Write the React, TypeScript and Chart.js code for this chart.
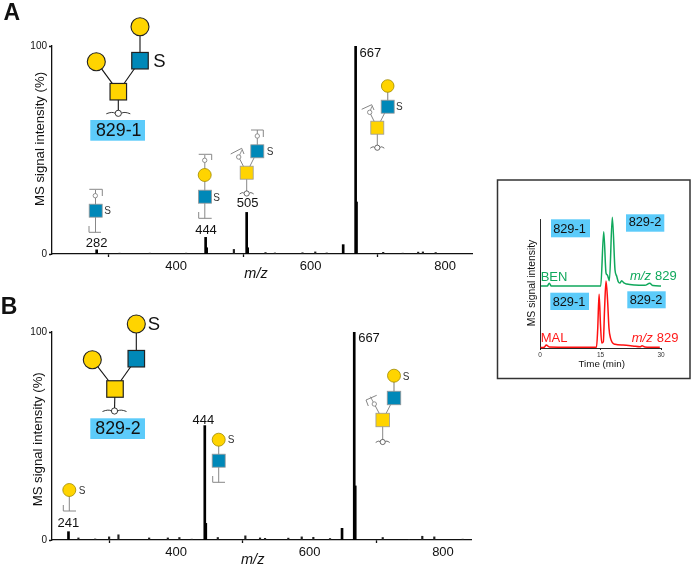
import React, { useEffect, useRef } from "react";
import { Chart, registerables } from "chart.js";

Chart.register(...registerables);

const FONT = '"Liberation Sans", Arial, sans-serif';
const W = 691;
const H = 566;
const YELLOW = "#FFD400";
const BLUE = "#0088B8";
const LABEL_BG = "#5CCBFA";

// Spectrum A
const aMajorMz = [282, 444, 505, 648.5, 667];
const aMajorInt = [2, 8, 20, 4.5, 100];
const aShoulderMz = [445.5, 506.5, 668.3];
const aShoulderInt = [3, 3, 25];
const aMinorMz = [316, 361, 415, 486, 533, 547, 588, 607, 624, 708, 737, 760, 767, 786];
const aMinorInt = [0.4, 0.4, 0.4, 2.2, 0.7, 0.5, 0.6, 1, 0.5, 0.8, 0.4, 0.9, 1, 0.7];

// Spectrum B
const bMajorMz = [238.7, 443, 648.7, 667];
const bMajorInt = [4, 55, 5.6, 100];
const bShoulderMz = [444.5, 668.5];
const bShoulderInt = [8, 26];
const bMinorMz = [253.6, 278.7, 299.6, 313.6, 359.6, 387.6, 404.9, 423.5, 462.5, 503.8, 525.8, 533.3, 568.2, 588.3, 605.7, 630.7, 709.7, 749, 769, 787, 829.5];
const bMinorInt = [1, 0.5, 1.5, 2.5, 1, 1, 1.2, 0.4, 1.2, 2, 1, 0.8, 0.9, 1.5, 1.3, 0.7, 1.2, 0.3, 1.8, 1.5, 0.4];

const spectrumXTicks = [400, 600, 800];
const spectrumYTicks = [0, 100];

// Inset chromatograms
const benTime = [0.25, 1.8, 2.3, 2.8, 15.05, 15.8, 16.37, 16.7, 17.2, 17.93, 18.6, 19, 19.4, 19.8, 20.25, 20.8, 21.5, 23.5, 26, 27.2, 28, 30];
const benSignal = [48, 48, 50.2, 48, 48, 90.2, 58.1, 56.6, 52.2, 101.3, 60.5, 55.8, 51.4, 50.4, 52.2, 50.4, 49.6, 48.8, 48.6, 50.2, 48.4, 48];
const malTime = [0.15, 1.05, 1.55, 2.3, 14, 14.3, 14.65, 15, 15.3, 15.7, 16, 16.37, 16.75, 17.1, 17.5, 18.6, 20.6, 23, 24.8, 25.3, 26, 29.7];
const malSignal = [0.4, 0.6, 2.3, 0.8, 0.5, 14, 41.6, 17.8, 3.9, 4.9, 29.5, 51.9, 37.2, 15.5, 7.5, 2.9, 2.3, 1.6, 0.9, 1.7, 0.8, 0.5];
const insetXTicks = [0, 15, 30];

type Ctx = CanvasRenderingContext2D;

function text(c: Ctx, s: string, x: number, y: number, font: string, color = "#111", align: CanvasTextAlign = "center") {
  c.font = `${font} ${FONT}`;
  c.fillStyle = color;
  c.textAlign = align;
  c.textBaseline = "middle";
  c.fillText(s, x, y);
}
function vtext(c: Ctx, s: string, x: number, y: number, font: string) {
  c.save();
  c.translate(x, y);
  c.rotate(-Math.PI / 2);
  text(c, s, 0, 0, font);
  c.restore();
}
function line(c: Ctx, pts: number[][], color = "#888", w = 1) {
  c.strokeStyle = color;
  c.lineWidth = w;
  c.beginPath();
  pts.forEach((p, i) => (i ? c.lineTo(p[0], p[1]) : c.moveTo(p[0], p[1])));
  c.stroke();
}
function square(c: Ctx, x: number, y: number, s: number, fill: string, stroke = "#999", w = 0.8) {
  c.fillStyle = fill;
  c.strokeStyle = stroke;
  c.lineWidth = w;
  c.fillRect(x - s / 2, y - s / 2, s, s);
  c.strokeRect(x - s / 2, y - s / 2, s, s);
}
function circle(c: Ctx, x: number, y: number, r: number, fill: string, stroke = "#a08a00", w = 0.8) {
  c.beginPath();
  c.arc(x, y, r, 0, Math.PI * 2);
  c.fillStyle = fill;
  c.fill();
  c.strokeStyle = stroke;
  c.lineWidth = w;
  c.stroke();
}
function anchor(c: Ctx, x: number, y: number, r: number, hw: number, color: string, w: number) {
  c.strokeStyle = color;
  c.lineWidth = w;
  c.beginPath();
  c.moveTo(x - hw, y + 0.5);
  c.quadraticCurveTo(x - hw / 2, y - 2, x - r, y);
  c.moveTo(x + r, y);
  c.quadraticCurveTo(x + hw / 2, y - 2, x + hw, y + 0.5);
  c.stroke();
  circle(c, x, y, r, "#fff", color, w);
}
function hollow(c: Ctx, x: number, y: number) {
  circle(c, x, y, 2.2, "#fff", "#777", 0.8);
}
function label(c: Ctx, s: string, x0: number, y0: number, x1: number, y1: number, cx: number, cy: number, font: string) {
  c.fillStyle = LABEL_BG;
  c.fillRect(x0, y0, x1 - x0, y1 - y0);
  text(c, s, cx, cy, font);
}
function bigGlycan(c: Ctx, gx: number, gy: number, bx: number, by: number, tx: number, ty: number, lx: number, ly: number, ax: number, ay: number) {
  const k = "#111";
  line(c, [[gx, gy], [lx, ly]], k, 1.1);
  line(c, [[gx, gy], [bx, by]], k, 1.1);
  line(c, [[bx, by], [tx, ty]], k, 1.1);
  line(c, [[gx, gy], [ax, ay]], k, 1.1);
  square(c, gx, gy, 16.5, YELLOW, "#222", 1.2);
  square(c, bx, by, 16.5, BLUE, "#222", 1.2);
  circle(c, tx, ty, 9, YELLOW, "#222", 1.1);
  circle(c, lx, ly, 9, YELLOW, "#222", 1.1);
  anchor(c, ax, ay, 3.1, 12, "#222", 0.9);
}
function armBranch(c: Ctx, gx: number, gy: number, ox: number, oy: number, p0: number[], p1: number[], p2: number[]) {
  line(c, [[gx, gy], [ox, oy]], "#777", 0.9);
  line(c, [p0, p1, p2], "#777", 0.9);
  line(c, [[ox, oy], [(p1[0] + p2[0]) / 2 - 1, (p1[1] + p2[1]) / 2 - 1]], "#777", 0.8);
  hollow(c, ox, oy);
}

const panelADecor = (c: Ctx) => {
  text(c, "A", 11.7, 14, "bold 23px");
  vtext(c, "MS signal intensity (%)", 40, 139, "13.2px");
  text(c, "m/z", 256, 274, "italic 14.5px");
  text(c, "282", 96.7, 243.5, "13px");
  text(c, "444", 206, 230, "13px");
  text(c, "505", 247.7, 203.5, "13px");
  text(c, "667", 370.3, 53.5, "13px");

  bigGlycan(c, 118.3, 91.7, 140, 60.7, 140, 26.7, 96.3, 61.7, 118.3, 113.3);
  text(c, "S", 159.5, 62, "18.5px");
  label(c, "829-1", 90.3, 120, 145, 140.7, 118.7, 130.7, "17.8px");

  // 282
  line(c, [[89.3, 189.3], [102.3, 189.3], [102.3, 196]]);
  line(c, [[95.5, 190], [95.5, 232.3]]);
  line(c, [[89, 226], [89, 232.3], [101, 232.3]]);
  hollow(c, 95.3, 195.7);
  square(c, 95.7, 210.7, 13, BLUE);
  text(c, "S", 107.7, 211.5, "10px", "#333");

  // 444
  line(c, [[198.7, 154.3], [211.7, 154.3], [211.7, 160]]);
  line(c, [[204.8, 155], [204.8, 218.3]]);
  line(c, [[198.7, 212], [198.7, 218.3], [211.7, 218.3]]);
  hollow(c, 204.7, 160.3);
  circle(c, 204.7, 175, 6.5, YELLOW);
  square(c, 205, 196.7, 13, BLUE);
  text(c, "S", 216.7, 198, "10px", "#333");

  // 505
  line(c, [[251, 130], [263.3, 130], [263.3, 137]]);
  line(c, [[257.3, 130], [257.3, 151]]);
  line(c, [[257.3, 151.3], [246.7, 172.7]]);
  line(c, [[246.7, 172.7], [246.7, 193]]);
  armBranch(c, 246.7, 172.7, 238.7, 157, [230.7, 154], [241.7, 148.3], [244, 154]);
  hollow(c, 257.3, 136);
  square(c, 257.3, 151.3, 13, BLUE);
  square(c, 246.7, 172.7, 13, YELLOW);
  text(c, "S", 270, 152.5, "10px", "#333");
  anchor(c, 246.7, 193.5, 2.6, 7, "#444", 0.8);

  // 667
  line(c, [[387.7, 86], [387.7, 107]], "#999", 1.3);
  line(c, [[387.7, 107], [377.3, 127.7]]);
  line(c, [[377.3, 127.7], [377.3, 147]]);
  armBranch(c, 377.3, 127.7, 369.7, 112.3, [361.7, 109.3], [371.7, 104.7], [374, 110]);
  circle(c, 387.7, 86, 6.3, YELLOW);
  square(c, 387.7, 106.7, 13, BLUE);
  square(c, 377.3, 127.7, 13, YELLOW);
  text(c, "S", 399.3, 107.5, "10px", "#333");
  anchor(c, 377.3, 147.7, 2.6, 7, "#444", 0.8);
};

const panelBDecor = (c: Ctx) => {
  text(c, "B", 9, 308, "bold 23px");
  vtext(c, "MS signal intensity (%)", 38.3, 439.3, "13.2px");
  text(c, "m/z", 252.7, 560, "italic 14.5px");
  text(c, "241", 68.3, 523.5, "13px");
  text(c, "444", 203.3, 420, "13px");
  text(c, "667", 369, 338, "13px");

  bigGlycan(c, 115, 389, 136.3, 358.7, 136.3, 324, 92.3, 359.7, 114.5, 411);
  text(c, "S", 154, 324.5, "18.5px");
  label(c, "829-2", 90.3, 418.3, 145, 439, 118, 429, "17.8px");

  // 241
  line(c, [[69.3, 490], [69.3, 511]]);
  line(c, [[63.3, 505], [63.3, 511], [76, 511]]);
  circle(c, 69.3, 490, 6.5, YELLOW);
  text(c, "S", 82, 491, "10px", "#333");

  // 444
  line(c, [[218.7, 440], [218.7, 482.3]]);
  line(c, [[212.7, 476], [212.7, 482.3], [225, 482.3]]);
  circle(c, 218.7, 439.7, 6.5, YELLOW);
  square(c, 218.7, 460.7, 13, BLUE);
  text(c, "S", 231, 440.5, "10px", "#333");

  // 667
  line(c, [[394, 376], [394, 398]], "#999", 1.3);
  line(c, [[394, 398], [382.7, 420]]);
  line(c, [[382.7, 420], [382.7, 441]]);
  armBranch(c, 382.7, 420, 374.3, 404, [368.3, 406], [366, 400], [376.7, 395.3]);
  circle(c, 394, 375.7, 6.5, YELLOW);
  square(c, 394, 398, 13.5, BLUE);
  square(c, 382.7, 420, 13.5, YELLOW);
  text(c, "S", 406, 377, "10px", "#333");
  anchor(c, 382.7, 442, 2.6, 7, "#444", 0.8);
};

const insetFrame = (c: Ctx) => {
  c.strokeStyle = "#333";
  c.lineWidth = 1.5;
  c.strokeRect(497.5, 180, 192.5, 198.5);
};

const insetDecor = (c: Ctx) => {
  vtext(c, "MS signal intensity", 531.7, 283, "10.4px");
  text(c, "Time (min)", 601.7, 364, "9.8px");
  label(c, "829-1", 551, 219.3, 590, 237.3, 569.5, 229, "12.8px");
  label(c, "829-2", 626, 214.3, 664.3, 231.7, 645, 222.5, "12.8px");
  label(c, "829-1", 550.3, 292.7, 589, 310, 569, 302, "12.8px");
  label(c, "829-2", 627.3, 291.3, 665.7, 308.3, 646, 300, "12.8px");
  const G = "#10A85C";
  const R = "#FF1A1A";
  text(c, "BEN", 554, 277.5, "13px", G);
  text(c, "MAL", 554, 338, "13px", R);
  text(c, "m/z", 630, 276, "italic 13px", G, "left");
  text(c, "829", 655, 276, "13px", G, "left");
  text(c, "m/z", 631.7, 338.5, "italic 13px", R, "left");
  text(c, "829", 656.7, 338.5, "13px", R, "left");
};

const pair = (xs: number[], ys: number[]) => xs.map((x, i) => ({ x, y: ys[i] }));

function decorPlugin(id: string, after: (c: Ctx) => void, before?: (c: Ctx) => void) {
  return {
    id,
    beforeDraw(chart: any) {
      if (before) {
        chart.ctx.save();
        before(chart.ctx);
        chart.ctx.restore();
      }
    },
    afterDraw(chart: any) {
      chart.ctx.save();
      after(chart.ctx);
      chart.ctx.restore();
    },
  };
}

function axis(min: number, max: number, values: number[], tickFont: number, fix: (s: any) => void, border: number, tickLen: number, tickPad: number, color = "#111", showLabels = true) {
  return {
    type: "linear",
    offset: false,
    min,
    max,
    border: { display: true, color: "#111", width: border },
    grid: { display: true, drawOnChartArea: false, drawTicks: values.length > 0, tickLength: tickLen, tickColor: "#111", tickWidth: border },
    afterBuildTicks: (s: any) => {
      s.ticks = values.map((value) => ({ value }));
    },
    afterFit: fix,
    ticks: {
      display: showLabels,
      autoSkip: false,
      maxRotation: 0,
      padding: tickPad,
      color,
      font: { family: FONT, size: tickFont },
    },
  };
}

function spectrumConfig(
  box: { left: number; right: number; top: number; bottom: number },
  xMin: number,
  xMax: number,
  major: any[],
  shoulder: any[],
  minor: any[],
  decor: (c: Ctx) => void,
  id: string
) {
  const xH = 24;
  return {
    type: "bar",
    data: {
      datasets: [
        { label: "main peaks", data: major, backgroundColor: "#000", barThickness: 2, grouped: false },
        { label: "peak shoulders", data: shoulder, backgroundColor: "#000", barThickness: 2, grouped: false },
        { label: "minor peaks", data: minor, backgroundColor: "#222", barThickness: 1.5, grouped: false },
      ],
    },
    options: {
      responsive: false,
      animation: false,
      layout: { padding: { left: 0, top: box.top, right: W - box.right, bottom: H - box.bottom - xH } },
      plugins: { legend: { display: false }, tooltip: { enabled: false } },
      scales: {
        x: axis(xMin, xMax, spectrumXTicks, 13, (s) => { s.height = xH; }, 1.3, 3, 2),
        y: axis(0, 100, spectrumYTicks, 10, (s) => { s.width = box.left; }, 1.3, 3, 2),
      },
    },
    plugins: [decorPlugin(id, decor)],
  };
}

function insetConfig() {
  const box = { left: 540, right: 661, top: 219, bottom: 348 };
  const xH = 16;
  return {
    type: "line",
    data: {
      datasets: [
        { label: "BEN", data: pair(benTime, benSignal), borderColor: "#10A85C", borderWidth: 1.5, pointRadius: 0, clip: false, cubicInterpolationMode: "monotone" },
        { label: "MAL", data: pair(malTime, malSignal), borderColor: "#FF1010", borderWidth: 1.5, pointRadius: 0, clip: false, cubicInterpolationMode: "monotone" },
      ],
    },
    options: {
      responsive: false,
      animation: false,
      layout: { padding: { left: 0, top: box.top, right: W - box.right, bottom: H - box.bottom - xH } },
      plugins: { legend: { display: false }, tooltip: { enabled: false } },
      scales: {
        x: axis(0, 30, insetXTicks, 6.5, (s) => { s.height = xH; }, 0.9, 2, 1, "#333"),
        y: axis(0, 100, [], 6, (s) => { s.width = box.left; }, 0.9, 0, 0, "#333", false),
      },
    },
    plugins: [decorPlugin("insetDecor", insetDecor, insetFrame)],
  };
}

export default function App() {
  const a = useRef<HTMLCanvasElement>(null);
  const b = useRef<HTMLCanvasElement>(null);
  const i = useRef<HTMLCanvasElement>(null);

  useEffect(() => {
    document.body.style.margin = "0";
    const charts = [
      new Chart(
        a.current as any,
        spectrumConfig(
          { left: 52, right: 472, top: 46, bottom: 254 },
          215.6,
          840,
          pair(aMajorMz, aMajorInt),
          pair(aShoulderMz, aShoulderInt),
          pair(aMinorMz, aMinorInt),
          panelADecor,
          "panelA"
        ) as any
      ),
      new Chart(
        b.current as any,
        spectrumConfig(
          { left: 52, right: 471, top: 332, bottom: 540 },
          214,
          842,
          pair(bMajorMz, bMajorInt),
          pair(bShoulderMz, bShoulderInt),
          pair(bMinorMz, bMinorInt),
          panelBDecor,
          "panelB"
        ) as any
      ),
      new Chart(i.current as any, insetConfig() as any),
    ];
    return () => charts.forEach((c) => c.destroy());
  }, []);

  const style: React.CSSProperties = { position: "absolute", left: 0, top: 0, width: W, height: H };
  return (
    <div style={{ position: "relative", width: W, height: H, background: "#fff", overflow: "hidden" }}>
      <canvas ref={a} width={W} height={H} style={style} />
      <canvas ref={b} width={W} height={H} style={style} />
      <canvas ref={i} width={W} height={H} style={style} />
    </div>
  );
}
